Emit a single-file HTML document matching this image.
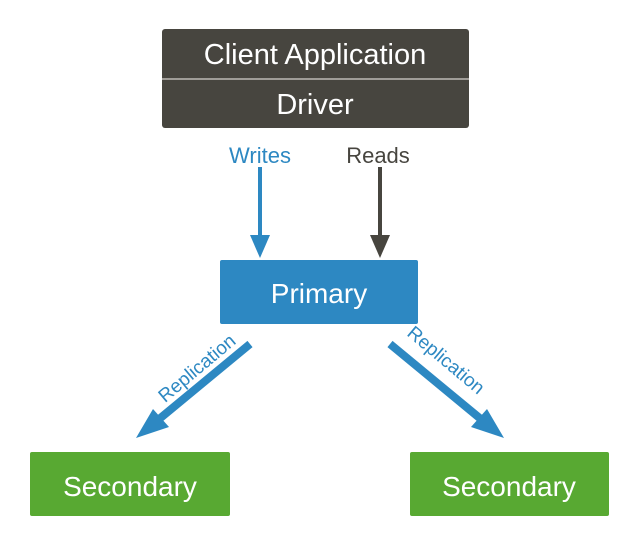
<!DOCTYPE html>
<html><head><style>
body{margin:0;width:622px;height:550px;background:#fff;overflow:hidden}
</style></head><body>
<svg width="622" height="550" viewBox="0 0 622 550" xmlns="http://www.w3.org/2000/svg" font-family="Liberation Sans, sans-serif">
<rect x="162" y="29" width="307" height="99" rx="3" fill="#47453f"/>
<line x1="162" y1="79" x2="469" y2="79" stroke="#a09d98" stroke-width="2"/>
<text x="315" y="64" text-anchor="middle" fill="#fff" font-size="29">Client Application</text>
<text x="315" y="114" text-anchor="middle" fill="#fff" font-size="29">Driver</text>
<text x="260" y="163" text-anchor="middle" fill="#2d88c2" font-size="22">Writes</text>
<text x="378" y="163" text-anchor="middle" fill="#47453f" font-size="22">Reads</text>
<line x1="260" y1="167" x2="260" y2="238" stroke="#2d88c2" stroke-width="4"/>
<polygon points="250,235 270,235 260,258" fill="#2d88c2"/>
<line x1="380" y1="167" x2="380" y2="238" stroke="#47453f" stroke-width="4"/>
<polygon points="370,235 390,235 380,258" fill="#47453f"/>
<rect x="220" y="260" width="198" height="64" rx="2" fill="#2d88c2"/>
<text x="319" y="303" text-anchor="middle" fill="#fff" font-size="28">Primary</text>
<line x1="250" y1="344" x2="158" y2="420" stroke="#2d88c2" stroke-width="8"/>
<polygon points="136,438 153,409 169,427" fill="#2d88c2"/>
<line x1="390" y1="344" x2="482" y2="420" stroke="#2d88c2" stroke-width="8"/>
<polygon points="504,438 487,409 471,427" fill="#2d88c2"/>
<text transform="translate(201,373) rotate(-40)" text-anchor="middle" fill="#2d88c2" font-size="19">Replication</text>
<text transform="translate(442,365) rotate(40)" text-anchor="middle" fill="#2d88c2" font-size="19">Replication</text>
<rect x="30" y="452" width="200" height="64" rx="2" fill="#58a932"/>
<text x="130" y="496" text-anchor="middle" fill="#fff" font-size="28">Secondary</text>
<rect x="410" y="452" width="199" height="64" rx="2" fill="#58a932"/>
<text x="509" y="496" text-anchor="middle" fill="#fff" font-size="28">Secondary</text>
</svg>
</body></html>
